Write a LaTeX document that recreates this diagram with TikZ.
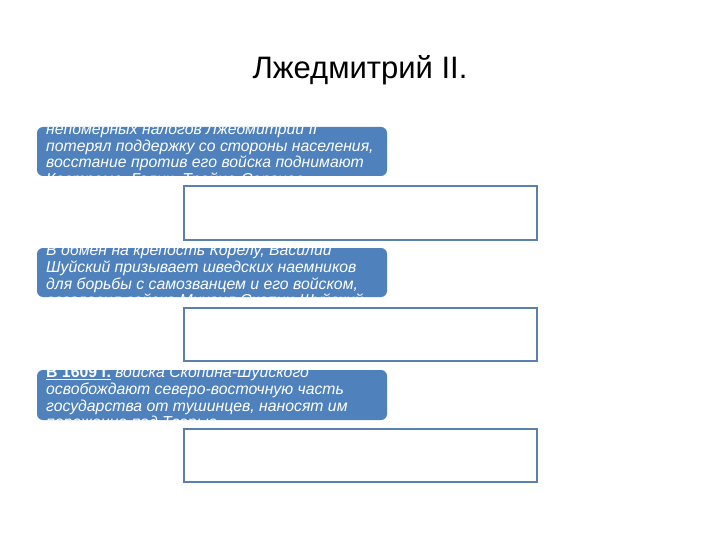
\documentclass[tikz,border=0pt]{standalone}
\usepackage{fontspec}
\setmainfont{Liberation Sans}
\definecolor{boxblue}{HTML}{4F81BD}
\definecolor{edgeblue}{HTML}{5A80AE}
\begin{document}
\begin{tikzpicture}[x=1pt,y=-1pt,
  bluebox/.style={fill=boxblue, draw=none, rounded corners=6pt, inner sep=0pt},
  emptybox/.style={draw=edgeblue, line width=2pt, fill=white, inner sep=0pt},
  txt/.style={text=white, inner sep=0pt, anchor=base west, font=\fontsize{15.8}{19}\selectfont\itshape},
  titletxt/.style={inner sep=0pt, anchor=base, font=\fontsize{31}{36}\selectfont}]
\useasboundingbox[fill=white] (0,0) rectangle (720,540);
\node[titletxt] (title) at (360,79) {Лжедмитрий II.};

% box 1
\node[bluebox, minimum width=350pt, minimum height=49pt] (b1) at (212,151.5) {};
\begin{scope}
\clip[rounded corners=6pt] (b1.north west) rectangle (b1.south east);
\node[txt] (b1a) at (46,134.5) {непомерных налогов Лжедмитрий II};
\node[txt] (b1b) at (46,151.5) {потерял поддержку со стороны населения,};
\node[txt] (b1c) at (46,168) {восстание против его войска поднимают};
\node[txt] (b1d) at (46,184.5) {Кострома, Галич, Тройце-Сергиев};
\end{scope}
\node[emptybox, minimum width=353pt, minimum height=54pt] (e1) at (360,213) {};

% box 2
\node[bluebox, minimum width=350pt, minimum height=49pt] (b2) at (212,272.5) {};
\begin{scope}
\clip[rounded corners=6pt] (b2.north west) rectangle (b2.south east);
\node[txt] (b2a) at (46,255.5) {В обмен на крепость Корелу, Василий};
\node[txt] (b2b) at (46,272.5) {Шуйский призывает шведских наемников};
\node[txt] (b2c) at (46,289) {для борьбы с самозванцем и его войском,};
\node[txt] (b2d) at (46,305.5) {возглавил войско Михаил Скопин-Шуйский};
\end{scope}
\node[emptybox, minimum width=353pt, minimum height=53pt] (e2) at (360.5,334) {};

% box 3
\node[bluebox, minimum width=350pt, minimum height=50pt] (b3) at (212,395) {};
\begin{scope}
\clip[rounded corners=6pt] (b3.north west) rectangle (b3.south east);
\node[txt] (b3a) at (46,377.5) {{\upshape\bfseries\underline{В 1609 г.}} войска Скопина-Шуйского};
\node[txt] (b3b) at (46,394.5) {освобождают северо-восточную часть};
\node[txt] (b3c) at (46,411) {государства от тушинцев, наносят им};
\node[txt] (b3d) at (46,427.5) {поражение под Тверью};
\end{scope}
\node[emptybox, minimum width=353pt, minimum height=53pt] (e3) at (360.5,455.5) {};
\end{tikzpicture}
\end{document}
